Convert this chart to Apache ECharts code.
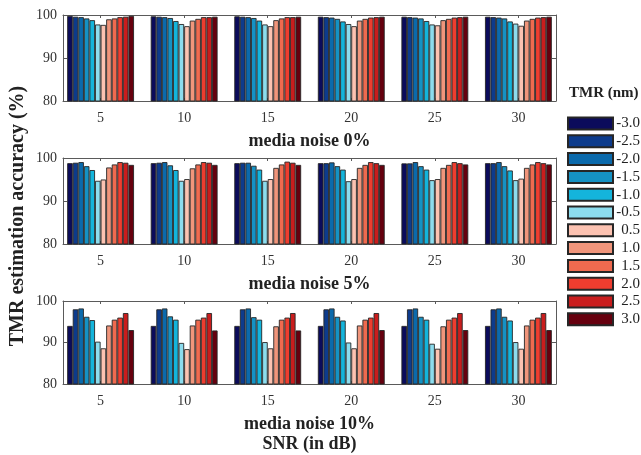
<!DOCTYPE html>
<html>
<head>
<meta charset="utf-8">
<script src="https://cdn.jsdelivr.net/npm/echarts@6/dist/echarts.min.js"></script>
<style>
  html, body { margin: 0; padding: 0; background: #fff; }
  #main { width: 641px; height: 455px; }
</style>
</head>
<body>
<div id="main"></div>
<script>
// SNR (dB) groups on the x axis
var snr = [5, 10, 15, 20, 25, 30];
// TMR levels (nm), one bar per level in each group
var tmr = ['-3.0', '-2.5', '-2.0', '-1.5', '-1.0', '-0.5', '0.5', '1.0', '1.5', '2.0', '2.5', '3.0'];
var colors = ['#0b0b5b', '#0d3b8c', '#0b6aac', '#1592c4', '#14b4db', '#8cdcee',
              '#fcc2b1', '#f0957b', '#ef6a4f', '#ee3d2f', '#c91d1d', '#66000e'];
var yTicks = [80, 90, 100];
var panelTitles = ['media noise 0%', 'media noise 5%', 'media noise 10%\nSNR (in dB)'];

// accuracy (%) -- one row per TMR level, one column per SNR
var noise0 = [
  [99.8, 99.7, 99.7, 99.6, 99.6, 99.6],
  [99.6, 99.6, 99.6, 99.5, 99.5, 99.5],
  [99.5, 99.5, 99.5, 99.4, 99.4, 99.4],
  [99.2, 99.3, 99.3, 99.1, 99.2, 99.2],
  [98.8, 98.6, 98.7, 98.5, 98.6, 98.5],
  [97.8, 97.9, 97.8, 97.9, 97.8, 98.0],
  [97.7, 97.4, 97.4, 97.4, 97.6, 97.5],
  [99.0, 98.7, 98.8, 98.7, 98.8, 98.7],
  [99.2, 99.1, 99.2, 99.1, 99.1, 99.1],
  [99.5, 99.5, 99.5, 99.4, 99.4, 99.4],
  [99.6, 99.5, 99.5, 99.5, 99.5, 99.5],
  [99.8, 99.6, 99.6, 99.6, 99.6, 99.6]
];
var noise5 = [
  [98.8, 98.8, 98.8, 98.8, 98.75, 98.8],
  [98.9, 98.9, 98.9, 98.8, 98.75, 98.8],
  [99.05, 99.05, 98.9, 98.98, 99.05, 99.05],
  [98.1, 98.3, 98.2, 98.1, 98.1, 98.1],
  [97.2, 97.2, 97.3, 97.3, 97.3, 97.1],
  [94.7, 94.7, 94.7, 94.6, 94.85, 94.85],
  [95.0, 95.1, 95.1, 95.1, 95.1, 95.2],
  [97.8, 97.6, 97.7, 97.7, 97.7, 97.7],
  [98.5, 98.5, 98.5, 98.4, 98.4, 98.5],
  [99.05, 99.05, 99.15, 99.05, 99.05, 99.05],
  [98.9, 98.9, 98.9, 98.8, 98.8, 98.8],
  [98.4, 98.4, 98.4, 98.4, 98.5, 98.5]
];
var noise10 = [
  [94.0, 94.0, 94.0, 94.0, 94.0, 94.0],
  [98.0, 98.0, 98.0, 98.0, 98.0, 98.0],
  [98.2, 98.2, 98.2, 98.2, 98.2, 98.2],
  [96.2, 96.3, 96.1, 96.2, 96.2, 96.2],
  [95.4, 95.5, 95.5, 95.3, 95.5, 95.3],
  [90.2, 89.9, 90.1, 90.0, 89.7, 90.1],
  [88.6, 88.4, 88.6, 88.6, 88.5, 88.5],
  [94.1, 94.1, 93.9, 94.1, 93.9, 94.1],
  [95.5, 95.5, 95.5, 95.5, 95.5, 95.5],
  [96.0, 96.0, 96.0, 96.0, 96.0, 96.0],
  [97.1, 97.1, 97.1, 97.1, 97.1, 97.1],
  [93.0, 92.9, 92.9, 93.0, 93.0, 93.0]
];

var panelData = [noise0, noise5, noise10];
var panelTops = [15, 158, 301];

var serif = 'Liberation Serif';
var axisColor = '#5a5a5a';

var chartDom = document.getElementById('main');
var myChart = echarts.init(chartDom);

var grid = [], xAxis = [], yAxis = [], series = [];

panelData.forEach(function (rows, p) {
  grid.push({ left: 63, top: panelTops[p], width: 493, height: 86 });

  // bottom axis with labels + name
  xAxis.push({
    type: 'value', gridIndex: p, position: 'bottom',
    min: 2.75, max: 32.25,
    name: panelTitles[p], nameLocation: 'middle', nameGap: 30,
    nameTextStyle: { fontFamily: serif, fontWeight: 'bold', fontSize: 18, color: '#222', lineHeight: 20 },
    axisLine: { lineStyle: { color: axisColor } },
    axisTick: { inside: true, length: 3, lineStyle: { color: axisColor } },
    axisLabel: {
      fontFamily: serif, fontSize: 14, color: '#333', margin: 10,
      showMinLabel: false, showMaxLabel: false,
      formatter: function (v) { return snr.indexOf(v) >= 0 ? v : ''; }
    },
    splitLine: { show: false }
  });
  // top axis, ticks only
  xAxis.push({
    type: 'value', gridIndex: p, position: 'top',
    min: 2.75, max: 32.25,
    axisLine: { lineStyle: { color: axisColor } },
    axisTick: { inside: true, length: 3, lineStyle: { color: axisColor } },
    axisLabel: { show: false },
    splitLine: { show: false }
  });

  yAxis.push({
    type: 'value', gridIndex: p, position: 'left',
    min: yTicks[0], max: yTicks[yTicks.length - 1], interval: 10,
    axisLine: { show: true, lineStyle: { color: axisColor } },
    axisTick: { show: true, inside: true, length: 4, lineStyle: { color: axisColor } },
    axisLabel: { fontFamily: serif, fontSize: 14, color: '#333', margin: 6 },
    splitLine: { show: false }
  });
  yAxis.push({
    type: 'value', gridIndex: p, position: 'right',
    min: yTicks[0], max: yTicks[yTicks.length - 1], interval: 10,
    axisLine: { show: true, lineStyle: { color: axisColor } },
    axisTick: { show: true, inside: true, length: 4, lineStyle: { color: axisColor } },
    axisLabel: { show: false },
    splitLine: { show: false }
  });

  rows.forEach(function (vals, j) {
    series.push({
      name: tmr[j],
      type: 'bar',
      xAxisIndex: p * 2,
      yAxisIndex: p * 2,
      barGap: '0%',
      barCategoryGap: '20%',
      data: snr.map(function (s, k) { return [s, vals[k]]; }),
      itemStyle: { color: colors[j], borderColor: '#262626', borderWidth: 0.9 }
    });
  });
});

var option = {
  animation: false,
  backgroundColor: '#fff',
  grid: grid,
  xAxis: xAxis,
  yAxis: yAxis,
  series: series,
  legend: {
    data: tmr,
    orient: 'vertical',
    left: 567,
    top: 116,
    padding: 0,
    icon: 'rect',
    itemWidth: 45,
    itemHeight: 12,
    itemGap: 2.8,
    selectedMode: false,
    formatter: function (name) { return '{a|' + name + '}'; },
    textStyle: {
      fontFamily: serif, fontSize: 15, color: '#222',
      rich: { a: { width: 22, height: 12, lineHeight: 12, align: 'right', fontFamily: serif, fontSize: 15, color: '#222' } }
    }
  },
  graphic: [
    {
      type: 'text', left: 569, top: 86,
      style: { text: 'TMR (nm)', font: 'bold 15px "Liberation Serif"', fill: '#222' }
    },
    {
      type: 'text', x: 18, y: 216, rotation: Math.PI / 2,
      style: {
        text: 'TMR estimation accuracy (%)', font: 'bold 20px "Liberation Serif"',
        fill: '#222', textAlign: 'center', textVerticalAlign: 'middle'
      }
    }
  ]
};

myChart.setOption(option);
</script>
</body>
</html>
